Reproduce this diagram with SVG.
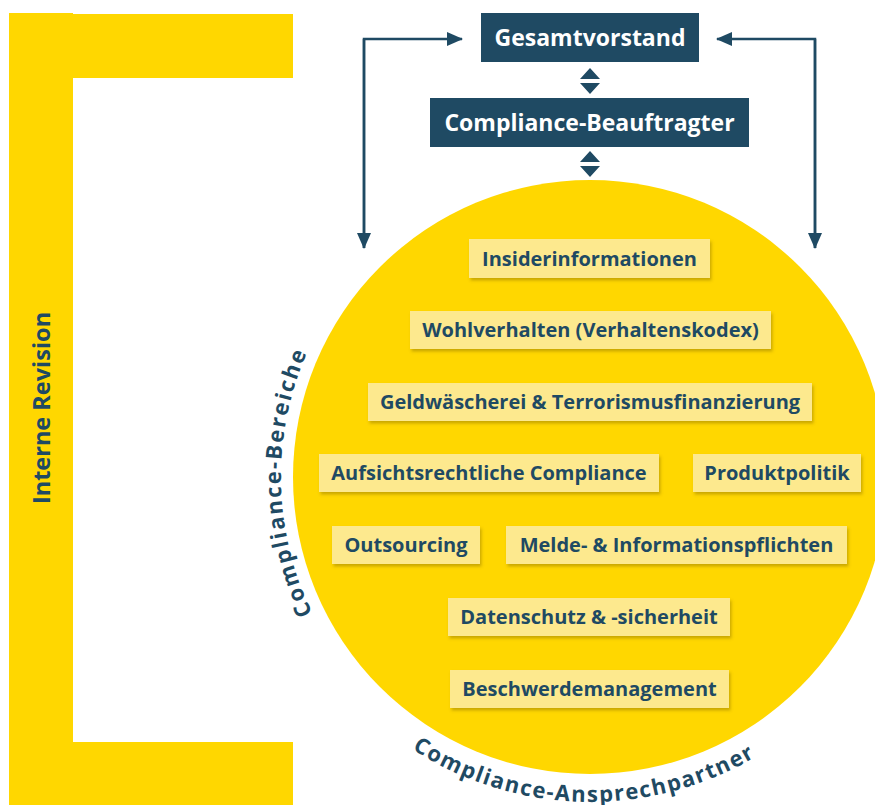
<svg xmlns="http://www.w3.org/2000/svg" width="875" height="805" viewBox="0 0 875 805">
<style>
.lbl{font-family:"Open Sans","Liberation Sans",sans-serif;font-weight:bold;font-size:20px;fill:#1F4A63;text-anchor:middle}
.box{fill:#FDE98E;filter:url(#sh)}
.head{fill:#1F4A63}
.ht{font-family:"Open Sans","Liberation Sans",sans-serif;font-weight:bold;font-size:23px;fill:#FFFFFF;text-anchor:middle}
.arc{font-family:"Open Sans","Liberation Sans",sans-serif;font-weight:bold;font-size:22px;fill:#1F4A63}
.ln{fill:none;stroke:#1F4A63;stroke-width:2.5}
.tri{fill:#1F4A63}
</style>
<defs>
<filter id="sh" x="-10%" y="-30%" width="120%" height="170%">
<feDropShadow dx="1.5" dy="2.5" stdDeviation="1.5" flood-color="#8a6d00" flood-opacity="0.45"/>
</filter>
<marker id="ah" viewBox="0 0 16 14" refX="15" refY="7" markerWidth="16" markerHeight="14" markerUnits="userSpaceOnUse" orient="auto">
<path d="M0,0 L16,7 L0,14 Z" fill="#1F4A63"/>
</marker>
<path id="pl" d="M 395.9 717.5 A 309 309 0 0 1 386.9 244.1"/>
<path id="pb" d="M 336.7 680.6 A 325 325 0 0 0 834.5 691.1"/>
</defs>
<g id="bracket" fill="#FFD700">
<rect x="9" y="13" width="64" height="792"/>
<rect x="73" y="14" width="220" height="64"/>
<rect x="73" y="742" width="220" height="63"/>
</g>
<g id="interne-revision">
<text class="lbl" style="font-size:23.5px" transform="translate(50,408) rotate(-90)">Interne Revision</text>
</g>
<g id="circle">
<circle cx="590" cy="477" r="297" fill="#FFD700"/>
</g>
<g id="arc-labels">
<text class="arc" letter-spacing="2"><textPath href="#pl" startOffset="50%" text-anchor="middle">Compliance-Bereiche</textPath></text>
<text class="arc" letter-spacing="1.5"><textPath href="#pb" startOffset="50%" text-anchor="middle">Compliance-Ansprechpartner</textPath></text>
</g>
<g id="connectors">
<path class="ln" d="M364,248 V39 H462" marker-end="url(#ah)"/>
<path class="ln" d="M364,39 V248" marker-end="url(#ah)"/>
<path class="ln" d="M815,248 V39 H717" marker-end="url(#ah)"/>
<path class="ln" d="M815,39 V248" marker-end="url(#ah)"/>
<path class="tri" d="M590,68 L600,79 L580,79 Z M580,83 L600,83 L590,94 Z"/>
<path class="tri" d="M590,151 L600,162 L580,162 Z M580,166 L600,166 L590,177 Z"/>
</g>
<g id="gesamtvorstand">
<rect class="head" x="481" y="13" width="218" height="49"/>
<text class="ht" x="590" y="46">Gesamtvorstand</text>
</g>
<g id="compliance-beauftragter">
<rect class="head" x="430" y="98" width="319" height="49"/>
<text class="ht" x="589.5" y="131">Compliance-Beauftragter</text>
</g>
<g id="insiderinformationen">
<rect class="box" x="469" y="239" width="241" height="39"/>
<text class="lbl" x="589.5" y="266">Insiderinformationen</text>
</g>
<g id="wohlverhalten">
<rect class="box" x="410" y="311" width="361" height="38"/>
<text class="lbl" x="590.5" y="337">Wohlverhalten (Verhaltenskodex)</text>
</g>
<g id="geldwaescherei">
<rect class="box" x="368" y="383" width="444" height="38"/>
<text class="lbl" x="590" y="409">Geldwäscherei &amp; Terrorismusfinanzierung</text>
</g>
<g id="aufsichtsrechtliche">
<rect class="box" x="319" y="454" width="340" height="38"/>
<text class="lbl" x="489" y="480">Aufsichtsrechtliche Compliance</text>
</g>
<g id="produktpolitik">
<rect class="box" x="693" y="454" width="168" height="38"/>
<text class="lbl" x="777" y="480">Produktpolitik</text>
</g>
<g id="outsourcing">
<rect class="box" x="332" y="526" width="148" height="38"/>
<text class="lbl" x="406" y="552">Outsourcing</text>
</g>
<g id="melde">
<rect class="box" x="506" y="526" width="341" height="38"/>
<text class="lbl" x="676.5" y="552">Melde- &amp; Informationspflichten</text>
</g>
<g id="datenschutz">
<rect class="box" x="448" y="598" width="282" height="38"/>
<text class="lbl" x="589" y="624">Datenschutz &amp; -sicherheit</text>
</g>
<g id="beschwerdemanagement">
<rect class="box" x="450" y="670" width="279" height="38"/>
<text class="lbl" x="589.5" y="696">Beschwerdemanagement</text>
</g>
</svg>
